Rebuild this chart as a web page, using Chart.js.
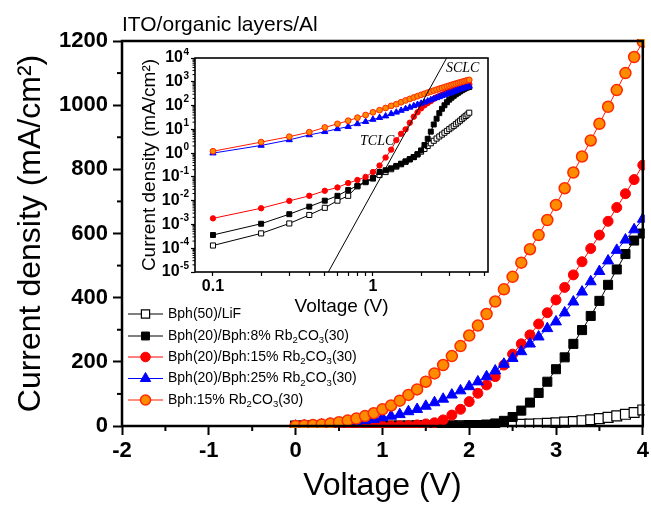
<!DOCTYPE html>
<html>
<head>
<meta charset="utf-8">
<script src="https://cdn.jsdelivr.net/npm/chart.js@4.4.1/dist/chart.umd.min.js"></script>
<style>
  html, body { margin:0; padding:0; background:#fff; }
  #wrap { position:relative; width:651px; height:505px; }
  #mainChart { position:absolute; left:0; top:0; }
  #insetChart { position:absolute; left:130px; top:48px; }
</style>
</head>
<body>
<div id="wrap">
  <canvas id="mainChart" width="651" height="505"></canvas>
  <canvas id="insetChart" width="370" height="272"></canvas>
</div>
<script>
// voltage steps (V)
const voltage = [0, 0.1, 0.2, 0.3, 0.4, 0.5, 0.6, 0.7, 0.8, 0.9,
  1.0, 1.1, 1.2, 1.3, 1.4, 1.5, 1.6, 1.7, 1.8, 1.9,
  2.0, 2.1, 2.2, 2.3, 2.4, 2.5, 2.6, 2.7, 2.8, 2.9,
  3.0, 3.1, 3.2, 3.3, 3.4, 3.5, 3.6, 3.7, 3.8, 3.9, 4.0];

const jLiF = [0, 1.3e-4, 4.2e-4, 1.1e-3, 2.5e-3, 5e-3, 0.01, 0.016, 0.04, 0.06,
  0.085, 0.12, 0.16, 0.21, 0.27, 0.34, 0.43, 0.54, 0.68, 0.88,
  1.15, 1.5, 2.0, 2.6, 3.3, 4.1, 5.0, 6.0, 7.2, 8.6,
  10.2, 12, 14, 16.5, 19.5, 23, 27, 31.5, 36.5, 42, 50];
const j8 = [0, 3.6e-4, 1.07e-3, 2.7e-3, 5.6e-3, 0.01, 0.016, 0.028, 0.042, 0.063,
  0.09, 0.16, 0.19, 0.23, 0.29, 0.36, 0.45, 0.56, 0.68, 0.9,
  1.3, 2.2, 4.0, 8.0, 16, 28, 48, 73, 103, 138,
  177, 214, 256, 299, 343, 390, 440, 488, 536, 578, 600];
const j15 = [0, 1.8e-3, 4.8e-3, 9.8e-3, 0.016, 0.026, 0.036, 0.055, 0.074, 0.1,
  0.16, 0.3, 0.65, 1.4, 3.5, 6.5, 10, 19, 34, 52,
  76, 102, 128, 154, 190, 224, 256, 284, 318, 353,
  393, 432, 471, 512, 553, 595, 638, 681, 724, 768, 813];
const j25 = [0, 1.0, 2.1, 3.6, 5.8, 7.9, 10.5, 13, 17, 21,
  26, 31, 36, 45, 52, 62, 73, 84, 97, 110,
  123, 138, 154, 172, 193, 211, 232, 256, 278, 304,
  325, 353, 387, 418, 450, 482, 515, 548, 580, 612, 645];
const jBph15 = [0, 1.2, 2.9, 4.9, 7.6, 12, 17, 23, 31, 40,
  52, 64, 79, 97, 114, 138, 164, 190, 218, 249,
  282, 313, 349, 388, 426, 465, 509, 551, 595, 642,
  689, 741, 790, 840, 890, 942, 995, 1047, 1100, 1150, 1198];

const seriesNames = ['Bph(50)/LiF', 'Bph(20)/Bph:8% Rb_2CO_3(30)', 'Bph(20)/Bph:15% Rb_2CO_3(30)',
  'Bph(20)/Bph:25% Rb_2CO_3(30)', 'Bph:15% Rb_2CO_3(30)'];
const seriesValues = [jLiF, j8, j15, j25, jBph15];

const xMinorMain = [-1.5, -0.5, 0.5, 1.5, 2.5, 3.5];
const yMinorMain = [100, 300, 500, 700, 900, 1100];
const insetXTicks = [0.1, 0.2, 0.3, 0.4, 0.5, 0.6, 0.7, 0.8, 0.9, 1, 2, 3, 4, 5];
const insetXLabels = {0.1: '0.1', 1: '1'};
const insetYExps = [-5, -4, -3, -2, -1, 0, 1, 2, 3, 4];
// SCLC guide line end points (V, mA/cm2)
const sclcLine = [{x: 0.526, y: 1e-5}, {x: 2.89, y: 1e4}];

const FONT = '"Liberation Sans", Arial, Helvetica, sans-serif';

const styles = [
  {line: '#000000', fill: '#ffffff', edge: '#000000', shape: 'rect', r: 7, ri: 3.6, rl: 5.8, bw: 1.2},
  {line: '#000000', fill: '#000000', edge: '#000000', shape: 'rect', r: 6.4, ri: 3.5, rl: 5.6, bw: 1},
  {line: '#ff0000', fill: '#ff0000', edge: '#ff0000', shape: 'circle', r: 5, ri: 2.7, rl: 4.8, bw: 1},
  {line: '#0000ff', fill: '#0000ff', edge: '#0000ff', shape: 'triangle', r: 6.3, ri: 3.6, rl: 6, bw: 1},
  {line: '#ff1a00', fill: '#ff8c00', edge: '#ff2a00', shape: 'circle', r: 5.5, ri: 2.9, rl: 5, bw: 1.5}
];
const drawOrder = [5, 4, 3, 2, 1];

function marker(ctx, shape, x, y, r) {
  ctx.beginPath();
  if (shape === 'rect') {
    const s = r * Math.SQRT1_2;
    ctx.rect(x - s, y - s, 2 * s, 2 * s);
  } else if (shape === 'triangle') {
    ctx.moveTo(x, y - r);
    ctx.lineTo(x + 0.866 * r, y + 0.5 * r);
    ctx.lineTo(x - 0.866 * r, y + 0.5 * r);
    ctx.closePath();
  } else {
    ctx.arc(x, y, r, 0, Math.PI * 2);
  }
  ctx.fill();
  ctx.stroke();
}

// text with _n subscripts
function subText(ctx, str, x, y, size) {
  const parts = str.split(/_(\d)/);
  parts.forEach((p, i) => {
    if (!p) return;
    const sub = i % 2 === 1;
    ctx.font = (sub ? size * 0.68 : size) + 'px ' + FONT;
    ctx.fillText(p, x, sub ? y + size * 0.32 : y);
    x += ctx.measureText(p).width;
  });
}

const mainDecor = {
  id: 'mainDecor',
  afterDraw(chart) {
    const {ctx, chartArea: a, scales: {x, y}} = chart;
    ctx.save();
    ctx.strokeStyle = '#000';
    ctx.lineWidth = 2;
    xMinorMain.forEach(v => {
      const px = x.getPixelForValue(v);
      ctx.beginPath(); ctx.moveTo(px, a.bottom); ctx.lineTo(px, a.bottom + 5); ctx.stroke();
    });
    yMinorMain.forEach(v => {
      const py = y.getPixelForValue(v);
      ctx.beginPath(); ctx.moveTo(a.left, py); ctx.lineTo(a.left - 5, py); ctx.stroke();
    });
    ctx.lineWidth = 2.5;
    ctx.strokeRect(a.left, a.top, a.right - a.left, a.bottom - a.top);

    ctx.fillStyle = '#000';
    ctx.textBaseline = 'alphabetic';
    ctx.font = '21px ' + FONT;
    ctx.fillText('ITO/organic layers/Al', 122, 31);

    // legend
    const rowY = [314, 336, 357, 378.5, 400];
    seriesNames.forEach((name, i) => {
      const st = styles[i];
      const yy = rowY[i];
      ctx.strokeStyle = st.line;
      ctx.lineWidth = 1;
      ctx.beginPath(); ctx.moveTo(128, yy); ctx.lineTo(163, yy); ctx.stroke();
      ctx.fillStyle = st.fill;
      ctx.strokeStyle = st.edge;
      ctx.lineWidth = st.bw;
      marker(ctx, st.shape, 145.5, yy, st.rl);
      ctx.fillStyle = '#000';
      ctx.textBaseline = 'middle';
      subText(ctx, name, 168, yy, 14);
    });
    ctx.restore();
  }
};

new Chart(document.getElementById('mainChart'), {
  type: 'line',
  data: {
    datasets: seriesValues.map((vals, i) => ({
      label: seriesNames[i].replace(/_/g, ''),
      data: voltage.map((v, k) => ({x: v, y: vals[k]})),
      borderColor: styles[i].line,
      borderWidth: 1,
      pointStyle: styles[i].shape,
      pointRadius: styles[i].r,
      pointBackgroundColor: styles[i].fill,
      pointBorderColor: styles[i].edge,
      pointBorderWidth: styles[i].bw,
      order: drawOrder[i],
      clip: 2
    }))
  },
  options: {
    responsive: false,
    animation: false,
    devicePixelRatio: 1,
    events: [],
    layout: {padding: {top: 41, right: 5, bottom: 0, left: 0}},
    plugins: {legend: {display: false}, tooltip: {enabled: false}},
    scales: {
      x: {
        type: 'linear', min: -2, max: 4,
        ticks: {stepSize: 1, color: '#000', padding: 3, maxRotation: 0,
          font: {family: FONT, size: 22, weight: 'bold'}, callback: v => String(v)},
        grid: {drawOnChartArea: false, tickLength: 9, tickWidth: 2, tickColor: '#000'},
        border: {display: false},
        title: {display: true, text: 'Voltage (V)', color: '#000',
          font: {family: FONT, size: 32}, padding: {top: 0, bottom: 0}},
        afterFit(s) { s.height = 79; s.paddingLeft = 0; s.paddingRight = 0; }
      },
      y: {
        min: 0, max: 1200,
        ticks: {stepSize: 200, color: '#000', padding: 5,
          font: {family: FONT, size: 22, weight: 'bold'}, callback: v => String(v)},
        grid: {drawOnChartArea: false, tickLength: 9, tickWidth: 2, tickColor: '#000'},
        border: {display: false},
        title: {display: true, text: 'Current density (mA/cm²)', color: '#000',
          font: {family: FONT, size: 32}, padding: {top: 12, bottom: 0}},
        afterFit(s) { s.width = 122; s.paddingTop = 0; s.paddingBottom = 0; }
      }
    }
  },
  plugins: [mainDecor]
});

const insetDecor = {
  id: 'insetDecor',
  afterDraw(chart) {
    const {ctx, chartArea: a, scales: {x, y}} = chart;
    ctx.save();
    ctx.strokeStyle = '#000';
    ctx.lineWidth = 1;
    for (let d = -5; d < 4; d++) {
      for (let m = 2; m < 10; m++) {
        const py = y.getPixelForValue(m * Math.pow(10, d));
        ctx.beginPath(); ctx.moveTo(a.left, py); ctx.lineTo(a.left - 2.5, py); ctx.stroke();
      }
    }
    ctx.lineWidth = 1.6;
    ctx.strokeRect(a.left, a.top, a.right - a.left, a.bottom - a.top);

    ctx.fillStyle = '#000';
    ctx.textBaseline = 'middle';
    insetYExps.forEach(e => {
      const py = y.getPixelForValue(Math.pow(10, e));
      const sup = String(e);
      ctx.font = 'bold 10px ' + FONT;
      const sw = ctx.measureText(sup).width;
      const right = a.left - 6;
      ctx.textAlign = 'left';
      ctx.fillText(sup, right - sw, py - 6);
      ctx.font = 'bold 16px ' + FONT;
      ctx.textAlign = 'right';
      ctx.fillText('10', right - sw - 0.5, py);
    });

    ctx.font = 'italic 14px "Liberation Serif", "Times New Roman", serif';
    ctx.textAlign = 'left';
    ctx.fillText('SCLC', x.getPixelForValue(2.86), y.getPixelForValue(Math.pow(10, 3.58)));
    ctx.textAlign = 'right';
    ctx.fillText('TCLC', x.getPixelForValue(1.36), y.getPixelForValue(Math.pow(10, 0.51)));
    ctx.restore();
  }
};

const insetSets = seriesValues.map((vals, i) => ({
  data: voltage.map((v, k) => ({x: v, y: vals[k]})).filter(p => p.x > 0 && p.y > 0),
  borderColor: styles[i].line,
  borderWidth: 1,
  pointStyle: styles[i].shape,
  pointRadius: styles[i].ri,
  pointBackgroundColor: styles[i].fill,
  pointBorderColor: styles[i].edge,
  pointBorderWidth: 1,
  order: drawOrder[i],
  clip: 0
}));
insetSets.push({
  data: sclcLine,
  borderColor: '#000',
  borderWidth: 1,
  pointRadius: 0,
  order: 0,
  clip: 0
});

new Chart(document.getElementById('insetChart'), {
  type: 'line',
  data: {datasets: insetSets},
  options: {
    responsive: false,
    animation: false,
    devicePixelRatio: 1,
    events: [],
    layout: {padding: {top: 10, right: 12, bottom: 0, left: 0}},
    plugins: {legend: {display: false}, tooltip: {enabled: false}},
    scales: {
      x: {
        type: 'logarithmic', min: 0.0772, max: 5.24,
        afterBuildTicks(s) { s.ticks = insetXTicks.map(v => ({value: v})); },
        ticks: {autoSkip: false, maxRotation: 0, color: '#000', padding: 1,
          font: {family: FONT, size: 16, weight: 'bold'},
          callback: v => insetXLabels[v] || ''},
        grid: {drawOnChartArea: false, tickLength: 4, tickWidth: 1.2, tickColor: '#000'},
        border: {display: false},
        title: {display: true, text: 'Voltage (V)', color: '#000',
          font: {family: FONT, size: 19}, padding: {top: 0, bottom: 2}},
        afterFit(s) { s.height = 48; s.paddingLeft = 0; s.paddingRight = 0; }
      },
      y: {
        type: 'logarithmic', min: 1e-5, max: 1e4,
        afterBuildTicks(s) { s.ticks = insetYExps.map(e => ({value: Math.pow(10, e)})); },
        ticks: {autoSkip: false, callback: () => ''},
        grid: {drawOnChartArea: false, tickLength: 4, tickWidth: 1.2, tickColor: '#000'},
        border: {display: false},
        title: {display: true, text: 'Current density (mA/cm²)', color: '#000',
          font: {family: FONT, size: 19}, padding: {top: 8, bottom: 0}},
        afterFit(s) { s.width = 65; s.paddingTop = 0; s.paddingBottom = 0; }
      }
    }
  },
  plugins: [insetDecor]
});
</script>
</body>
</html>
